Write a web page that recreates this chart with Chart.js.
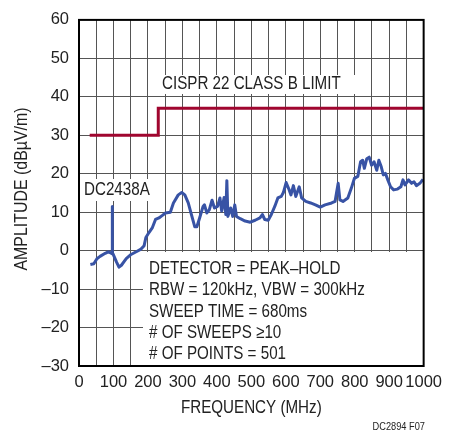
<!DOCTYPE html>
<html>
<head>
<meta charset="utf-8">
<script src="https://cdn.jsdelivr.net/npm/chart.js@4.4.1/dist/chart.umd.min.js"></script>
<style>
  html, body { margin: 0; padding: 0; background: #fff; }
  #wrap { width: 449px; height: 436px; }
</style>
</head>
<body>
<div id="wrap"><canvas id="emiChart" width="449" height="436"></canvas></div>
<script>
const FONT = '"Liberation Sans", Arial, sans-serif';

// measured trace (MHz, dBµV/m)
const traceFreq = [33, 43, 52, 61, 76, 85, 92, 96, 96.5, 97, 99, 109, 116, 123, 137, 151, 166, 180, 189, 194, 203, 213, 222, 232,
  241, 251, 265, 274, 288, 298, 307, 317, 326, 336, 342, 350, 360, 364, 371, 378, 386, 393, 402, 409, 414, 421, 426, 429, 432,
  440, 446, 452, 457, 468, 482, 497, 511, 525, 532, 539, 549, 558, 568, 577, 587, 593, 601, 608, 615, 622, 629, 639, 646,
  658, 672, 686, 700, 714, 733, 743, 747, 752, 757, 766, 780, 790, 799, 809, 817, 823, 828, 835, 842, 849, 856, 864, 870,
  877, 883, 889, 896, 904, 913, 924, 934, 940, 946, 956, 965, 972, 979, 989, 998];
const traceLevel = [-3.6, -3.4, -2.1, -1.5, -0.7, -0.3, -0.6, -0.8, 11.5, -0.6, -0.9, -3, -4.3, -3.8, -2.1, -1, -0.3, 0.4, 1.3, 3.4, 4.7, 6.0, 8.1, 8.5,
  9.1, 9.8, 10, 12.4, 14.5, 15.1, 14.5, 12.4, 9.4, 6.2, 6.2, 8.5, 11.5, 11.9, 9.8, 10.6, 13.1, 11.1, 11.5, 13.7, 10.3, 13.8, 9.4, 18.2, 8.9,
  11.1, 8.9, 11.9, 8.9, 8.3, 7.7, 7.4, 7.9, 8.5, 9.4, 8.1, 7.9, 9.4, 11.5, 13.7, 14.1, 15.1, 17.7, 16.2, 14.5, 16.9, 14.1, 16.6, 13.7,
  12.8, 12.4, 11.9, 11.3, 11.9, 12.4, 12.8, 14.9, 17.5, 13.2, 12.8, 13.7, 16.2, 18.8, 19.3, 23.1, 23.5, 21.4, 23.9, 24.3, 22.2, 23.1, 20.9, 23.5,
  21.8, 19.7, 20.1, 18.4, 16.6, 15.8, 16.0, 16.6, 18.4, 17.1, 18.4, 17.5, 17.9, 16.9, 17.5, 18.5];

// CISPR 22 class B limit
const limitFreq = [31, 230, 230, 1000];
const limitLevel = [30, 30, 37, 37];

const xTicks = [0, 100, 200, 300, 400, 500, 600, 700, 800, 900, 1000];
const yTicks = [-30, -20, -10, 0, 10, 20, 30, 40, 50, 60];

const notes = [
  "DETECTOR = PEAK\u2013HOLD",
  "RBW = 120kHz, VBW = 300kHz",
  "SWEEP TIME = 680ms",
  "# OF SWEEPS \u226510",
  "# OF POINTS = 501"
];

const toPoints = (xs, ys) => xs.map((x, i) => ({ x: x, y: ys[i] }));

// no narrow face installed: squeeze text horizontally
function narrowText(c, text, x, y, size, squeeze, align, angle) {
  c.save();
  c.translate(x, y);
  if (angle) c.rotate(angle);
  c.scale(squeeze, 1);
  c.font = size + "px " + FONT;
  c.textAlign = align || "left";
  c.textBaseline = "middle";
  c.fillText(text, 0, 0);
  c.restore();
}

// white label boxes drawn over the grid, under the traces
const labelPlugin = {
  id: "labels",
  beforeDatasetsDraw(chart) {
    const c = chart.ctx;
    const a = chart.chartArea;
    c.save();
    c.fillStyle = "#fff";
    c.fillRect(157, 75, 200, 19);
    c.fillRect(81, 179, 74, 22);
    c.fillRect(143, 252, a.right - 143, a.bottom - 252);
    c.fillStyle = "#222";
    narrowText(c, "CISPR 22 CLASS B LIMIT", 162, 84, 18.5, 0.82);
    narrowText(c, "DC2438A", 84, 190, 18.5, 0.82);
    notes.forEach((t, i) => narrowText(c, t, 149, 269 + i * 21.3, 18.5, 0.82));
    c.restore();
  },
  afterDatasetsDraw(chart) {
    const c = chart.ctx;
    const a = chart.chartArea;
    c.save();
    c.strokeStyle = "#000";
    c.lineWidth = 2;
    c.strokeRect(a.left, a.top, a.right - a.left, a.bottom - a.top);
    c.fillStyle = "#222";
    narrowText(c, "FREQUENCY (MHz)", (a.left + a.right) / 2, 408, 18.5, 0.82, "center");
    narrowText(c, "AMPLITUDE (dB\u00b5V/m)", 22, 189, 18.5, 0.86, "center", -Math.PI / 2);
    narrowText(c, "DC2894 F07", 425, 427, 11, 0.84, "right");
    c.restore();
  }
};

new Chart(document.getElementById("emiChart"), {
  type: "scatter",
  data: {
    datasets: [
      {
        label: "Limit",
        data: toPoints(limitFreq, limitLevel),
        showLine: true,
        borderColor: "#a0062f",
        borderWidth: 3,
        pointRadius: 0,
        tension: 0
      },
      {
        label: "DC2438A",
        data: toPoints(traceFreq, traceLevel),
        showLine: true,
        borderColor: "#3853a5",
        borderWidth: 3,
        pointRadius: 0,
        tension: 0,
        borderJoinStyle: "round"
      }
    ]
  },
  options: {
    responsive: false,
    animation: false,
    layout: { padding: { left: 0, right: 18, top: 14, bottom: 0 } },
    plugins: { legend: { display: false }, tooltip: { enabled: false } },
    scales: {
      x: {
        type: "linear",
        min: 0,
        max: 1000,
        afterFit: (s) => { s.height = 70; },
        afterBuildTicks: (s) => {
          const t = [];
          for (let v = 0; v <= 1000; v += 50) t.push({ value: v });
          s.ticks = t;
        },
        ticks: {
          autoSkip: false,
          maxRotation: 0,
          padding: 7,
          color: "#222",
          font: { family: FONT, size: 16.5 },
          callback: (v) => (xTicks.includes(v) ? String(v) : "")
        },
        grid: { color: "#555", lineWidth: 1, drawTicks: false },
        border: { display: false },
        title: { display: false }
      },
      y: {
        min: -30,
        max: 60,
        afterFit: (s) => { s.width = 79; },
        afterBuildTicks: (s) => { s.ticks = yTicks.map((v) => ({ value: v })); },
        ticks: {
          padding: 10,
          color: "#222",
          font: { family: FONT, size: 16.5 },
          callback: (v) => String(v).replace("-", "\u2013")
        },
        grid: { color: "#555", lineWidth: 1, drawTicks: false },
        border: { display: false },
        title: { display: false }
      }
    }
  },
  plugins: [labelPlugin]
});
</script>
</body>
</html>
